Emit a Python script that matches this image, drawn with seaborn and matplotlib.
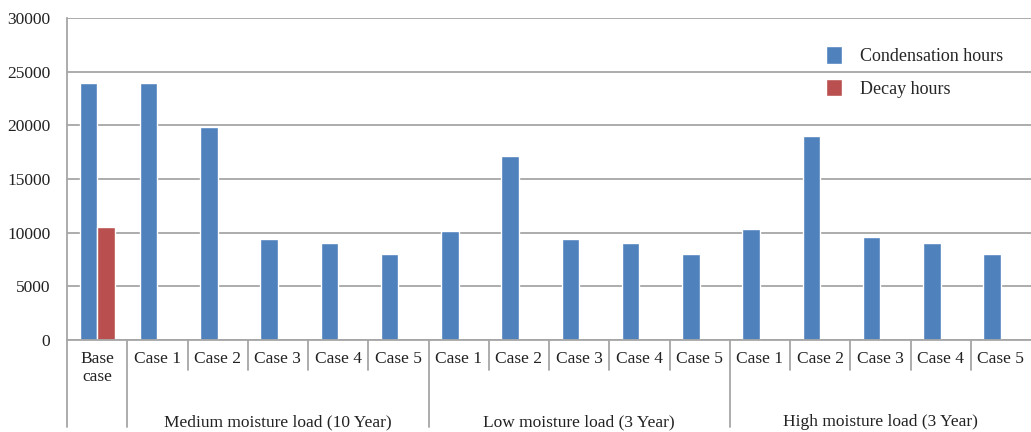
import matplotlib
matplotlib.use('Agg')
import matplotlib.pyplot as plt
import matplotlib.transforms as mtransforms
import seaborn as sns
import pandas as pd
import numpy as np

sns.set_theme(style='white')
plt.rcParams['font.family'] = ['Liberation Serif', 'DejaVu Serif']

# --- data ---
slot_keys = ['Base', 'M1', 'M2', 'M3', 'M4', 'M5', 'L1', 'L2', 'L3', 'L4', 'L5',
             'H1', 'H2', 'H3', 'H4', 'H5']
case_labels = ['Base\ncase', 'Case 1', 'Case 2', 'Case 3', 'Case 4', 'Case 5',
               'Case 1', 'Case 2', 'Case 3', 'Case 4', 'Case 5',
               'Case 1', 'Case 2', 'Case 3', 'Case 4', 'Case 5']
condensation = [24000, 24000, 19850, 9450, 9050, 8000,
                10200, 17150, 9450, 9050, 8000,
                10300, 19000, 9600, 9050, 8000]
decay = [10500] + [np.nan] * 15
groups = ['Medium moisture load (10 Year)', 'Low moisture load (3 Year)',
          'High moisture load (3 Year)']
group_centers = [3, 8, 13]
series_names = ['Condensation hours', 'Decay hours']
colors = ['#4F81BD', '#B9504F']

df = pd.DataFrame({
    'slot': slot_keys * 2,
    'hours': condensation + decay,
    'series': [series_names[0]] * 16 + [series_names[1]] * 16,
})

fig = plt.figure(figsize=(10.31, 4.32), dpi=100)
ax = fig.add_axes([0.065, 0.213, 0.935, 0.745])

sns.barplot(data=df, x='slot', y='hours', hue='series', order=slot_keys,
            hue_order=series_names, palette=colors, width=0.58, dodge=True,
            saturation=1, errorbar=None, ax=ax)

ax.set_ylim(0, 30000)
ax.set_yticks(range(0, 30001, 5000))
ax.set_xlim(-0.5, 15.5)
ax.yaxis.grid(True, color='#A6A6A6', linewidth=1.3)
ax.set_axisbelow(True)
ax.set_xlabel('')
ax.set_ylabel('')
ax.set_xticks(range(16))
ax.set_xticklabels(case_labels, fontsize=12.5, color='#222222', va='top')
ax.tick_params(axis='x', length=0, pad=8)
ax.tick_params(axis='y', labelsize=12.5, labelcolor='#222222', length=7,
               color='#A6A6A6', width=1.3, pad=5)
for s in ['top', 'right']:
    ax.spines[s].set_visible(False)
for s in ['left', 'bottom']:
    ax.spines[s].set_color('#A6A6A6')
    ax.spines[s].set_linewidth(1.3)

# separators of the two-level category axis
trans = mtransforms.blended_transform_factory(ax.transData, ax.transAxes)
for i in range(16):
    xpos = i - 0.5
    low = -0.27 if xpos in (-0.5, 0.5, 5.5, 10.5) else -0.093
    ax.plot([xpos, xpos], [0, low], color='#A6A6A6', linewidth=1.3,
            transform=trans, clip_on=False)

for name, c in zip(groups, group_centers):
    ax.text(c, -0.255, name, transform=trans, ha='center', va='center',
            fontsize=12.5, color='#222222')

ax.legend(loc='upper left', bbox_to_anchor=(0.785, 0.93),
          bbox_transform=fig.transFigure, frameon=False, fontsize=13,
          handlelength=0.9, handleheight=1.1, handletextpad=1.0,
          labelspacing=0.75)

fig.savefig('out.png', dpi=100)
